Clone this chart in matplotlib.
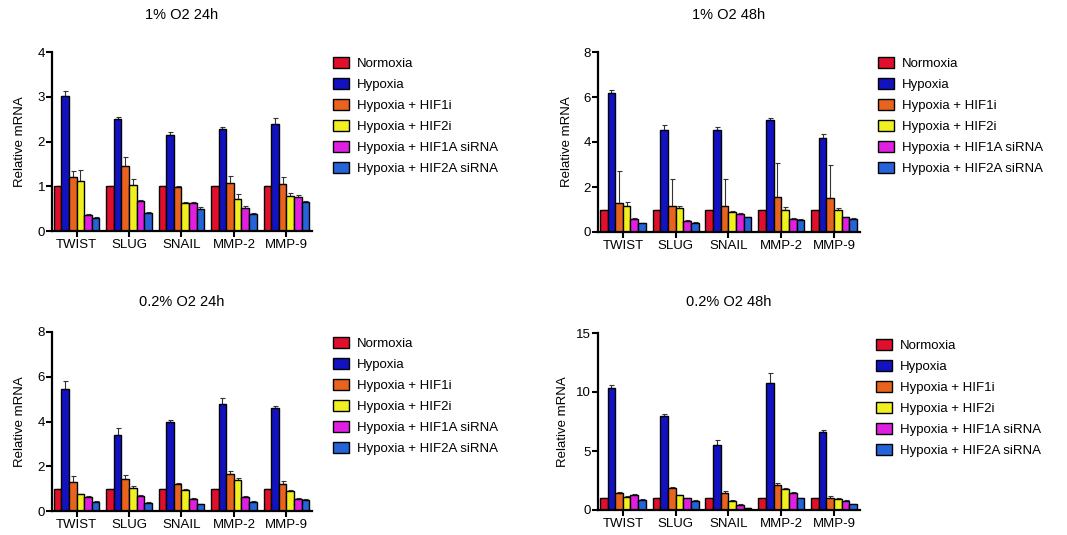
import matplotlib
matplotlib.use("Agg")
import matplotlib.pyplot as plt
from matplotlib.patches import Patch
import numpy as np

plt.rcParams['font.family'] = ['Liberation Sans', 'DejaVu Sans']

genes = ["TWIST", "SLUG", "SNAIL", "MMP-2", "MMP-9"]
conditions = ["Normoxia", "Hypoxia", "Hypoxia + HIF1i", "Hypoxia + HIF2i",
              "Hypoxia + HIF1A siRNA", "Hypoxia + HIF2A siRNA"]
colors = ["#e0102c", "#1212c0", "#e8641e", "#f0f020", "#e020e0", "#2464d8"]

titles = ["1% O2 24h", "1% O2 48h", "0.2% O2 24h", "0.2% O2 48h"]

# values [condition][gene]
p1_vals = [[1, 1, 1, 1, 1],
           [3.02, 2.50, 2.15, 2.27, 2.38],
           [1.20, 1.45, 0.98, 1.07, 1.05],
           [1.12, 1.02, 0.62, 0.72, 0.78],
           [0.35, 0.68, 0.62, 0.52, 0.77],
           [0.30, 0.40, 0.50, 0.38, 0.65]]
p1_err = [[0, 0, 0, 0, 0],
          [0.10, 0.05, 0.07, 0.05, 0.15],
          [0.15, 0.20, 0.03, 0.15, 0.15],
          [0.25, 0.15, 0.02, 0.10, 0.08],
          [0.02, 0.02, 0.02, 0.03, 0.03],
          [0.02, 0.02, 0.03, 0.02, 0.03]]

p2_vals = [[1, 1, 1, 1, 1],
           [6.20, 4.55, 4.55, 5.00, 4.20],
           [1.30, 1.15, 1.15, 1.55, 1.50],
           [1.15, 1.05, 0.90, 1.00, 0.97],
           [0.60, 0.50, 0.80, 0.60, 0.65],
           [0.38, 0.40, 0.65, 0.55, 0.60]]
p2_err = [[0, 0, 0, 0, 0],
          [0.10, 0.20, 0.10, 0.05, 0.15],
          [1.40, 1.20, 1.20, 1.50, 1.50],
          [0.20, 0.10, 0.05, 0.10, 0.10],
          [0.03, 0.03, 0.03, 0.03, 0.03],
          [0.03, 0.03, 0.03, 0.03, 0.03]]

p3_vals = [[1, 1, 1, 1, 1],
           [5.45, 3.40, 4.00, 4.78, 4.60],
           [1.30, 1.45, 1.22, 1.65, 1.22],
           [0.75, 1.05, 0.92, 1.38, 0.88],
           [0.62, 0.68, 0.55, 0.62, 0.55],
           [0.40, 0.35, 0.30, 0.40, 0.50]]
p3_err = [[0, 0, 0, 0, 0],
          [0.35, 0.30, 0.05, 0.25, 0.10],
          [0.25, 0.15, 0.05, 0.15, 0.10],
          [0.03, 0.08, 0.05, 0.10, 0.08],
          [0.05, 0.05, 0.05, 0.05, 0.03],
          [0.03, 0.03, 0.03, 0.03, 0.03]]

p4_vals = [[1, 1, 1, 1, 1],
           [10.3, 8.0, 5.5, 10.8, 6.6],
           [1.45, 1.85, 1.40, 2.10, 1.05],
           [1.10, 1.25, 0.80, 1.75, 0.95],
           [1.25, 1.00, 0.45, 1.45, 0.80],
           [0.85, 0.80, 0.15, 1.00, 0.50]]
p4_err = [[0, 0, 0, 0, 0],
          [0.30, 0.10, 0.40, 0.80, 0.20],
          [0.10, 0.10, 0.20, 0.20, 0.10],
          [0.05, 0.05, 0.05, 0.10, 0.05],
          [0.10, 0.05, 0.05, 0.10, 0.05],
          [0.05, 0.05, 0.03, 0.05, 0.03]]

panels = [
    (p1_vals, p1_err, 4, [0, 1, 2, 3, 4]),
    (p2_vals, p2_err, 8, [0, 2, 4, 6, 8]),
    (p3_vals, p3_err, 8, [0, 2, 4, 6, 8]),
    (p4_vals, p4_err, 15, [0, 5, 10, 15]),
]

W, H = 1067, 535
fig = plt.figure(figsize=(W / 100, H / 100), dpi=100)

# pixel boxes: left, right, top, bottom
boxes = [(52, 312, 52, 231), (598, 860, 52, 232),
         (52, 312, 332, 511), (598, 860, 333, 510)]
title_y = [15, 15, 302, 302]
ylabel_x = [20, 567, 20, 563]
legend_pos = [(333, 57), (878, 57), (333, 337), (876, 339)]

bw = 0.145
x = np.arange(len(genes))
for i, ((vals, errs, ymax, yt), (l, r, t, b)) in enumerate(zip(panels, boxes)):
    ax = fig.add_axes([l / W, 1 - b / H, (r - l) / W, (b - t) / H])
    for k in range(len(conditions)):
        pos = x + (k - 2.5) * bw
        ax.bar(pos, vals[k], width=bw, color=colors[k], edgecolor="black",
               linewidth=1.0, zorder=2)
        e = np.array(errs[k])
        ax.errorbar(pos, vals[k], yerr=[np.zeros_like(e), e], fmt="none",
                    ecolor="#333333", elinewidth=0.8, capsize=1.8, capthick=0.8,
                    zorder=1)
    ax.set_xlim(-0.47, 4.49)
    ax.set_ylim(0, ymax)
    ax.set_yticks(yt)
    ax.set_xticks(x)
    ax.set_xticklabels(genes, fontsize=9.5)
    ax.tick_params(axis="y", labelsize=9.5, width=1.5, length=4, pad=1)
    ax.tick_params(axis="x", width=1.5, length=4, pad=2)
    for s in ["top", "right"]:
        ax.spines[s].set_visible(False)
    for s in ["left", "bottom"]:
        ax.spines[s].set_linewidth(1.6)
    fig.text(ylabel_x[i] / W, 1 - ((t + b) / 2) / H, "Relative mRNA",
             rotation=90, ha="center", va="center", fontsize=9.5)
    fig.text(((l + r) / 2) / W, 1 - title_y[i] / H, titles[i],
             ha="center", va="center", fontsize=10.5)
    handles = [Patch(facecolor=c, edgecolor="black", linewidth=1.0) for c in colors]
    lx, ly = legend_pos[i]
    fig.legend(handles, conditions, loc="upper left",
               bbox_to_anchor=(lx / W, 1 - ly / H), frameon=False,
               fontsize=9.5, handlelength=1.2, handleheight=0.9,
               handletextpad=0.6, labelspacing=0.6, borderaxespad=0,
               borderpad=0)

fig.savefig("out.png", dpi=100)
